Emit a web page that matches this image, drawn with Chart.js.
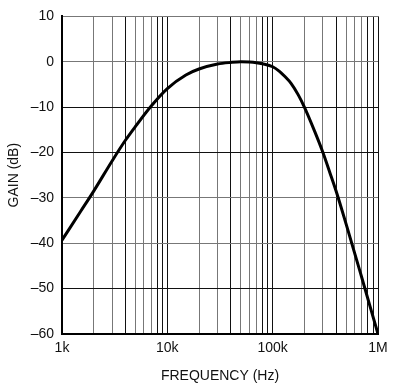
<!DOCTYPE html>
<html>
<head>
<meta charset="utf-8">
<script src="https://cdn.jsdelivr.net/npm/chart.js@4"></script>
<style>
  html, body { margin: 0; padding: 0; background: #fff; }
  #wrap { width: 394px; height: 391px; }
</style>
</head>
<body>
<div id="wrap"><canvas id="gain"></canvas></div>
<script>
// frequency (Hz) and gain (dB)
const freqHz = [1000, 1500, 2000, 3000, 4000, 5000, 7000, 10000, 15000, 20000, 30000, 40000, 50000,
    60000, 70000, 80000, 100000, 116000, 130000, 150000, 175000, 200000, 250000, 300000, 350000,
    400000, 500000, 700000, 1000000];
const gainDb = [-39.3, -33.0, -28.5, -21.8, -17.3, -14.2, -9.8, -5.9, -2.9, -1.6, -0.5, -0.15, 0,
    -0.05, -0.2, -0.45, -1.1, -2.1, -3.2, -4.8, -7.3, -10, -15.3, -20, -24.5,
    -28.5, -35.9, -47.5, -60];
const decadeLabels = {1000: '1k', 10000: '10k', 100000: '100k', 1000000: '1M'};

const font = {family: "'Liberation Sans Narrow', 'Liberation Sans', Arial, sans-serif", size: 14};
Chart.defaults.color = '#111';

new Chart(document.getElementById('gain'), {
    type: 'scatter',
    data: {
        datasets: [{
            data: freqHz.map((f, i) => ({x: f, y: gainDb[i]})),
            showLine: true,
            borderColor: '#000',
            borderWidth: 3,
            pointRadius: 0,
            cubicInterpolationMode: 'monotone',
        }],
    },
    options: {
        responsive: true,
        maintainAspectRatio: false,
        animation: false,
        layout: {padding: {left: 0, right: 16, top: 16, bottom: 6}},
        plugins: {legend: {display: false}, tooltip: {enabled: false}},
        scales: {
            x: {
                type: 'logarithmic',
                min: 1000,
                max: 1000000,
                afterBuildTicks: (scale) => {
                    const t = [];
                    for (let d = 1000; d < 1000000; d *= 10) {
                        for (let m = 1; m < 10; m++) t.push({value: d * m});
                    }
                    t.push({value: 1000000});
                    scale.ticks = t;
                },
                afterFit: (scale) => { scale.height = 51; },
                ticks: {
                    autoSkip: false,
                    maxRotation: 0,
                    padding: 6,
                    font: font,
                    callback: (v) => decadeLabels[v] || '',
                },
                grid: {
                    drawTicks: false,
                    color: (ctx) => {
                        const v = ctx.tick ? ctx.tick.value : 0;
                        const m = Math.round(v / Math.pow(10, Math.floor(Math.log10(v) + 1e-9)));
                        return (m === 1 || m === 4 || m === 8 || m === 9) ? '#111' : '#777';
                    },
                },
                border: {color: '#000', width: 2},
                title: {display: true, text: 'FREQUENCY (Hz)', font: font, padding: {top: 2, bottom: 0}},
            },
            y: {
                min: -60,
                max: 10,
                afterFit: (scale) => { scale.width = 62; },
                ticks: {
                    stepSize: 10,
                    padding: 8,
                    font: font,
                    callback: (v) => v < 0 ? '\u2013' + Math.abs(v) : String(v),
                },
                grid: {
                    drawTicks: false,
                    color: (ctx) => {
                        const v = ctx.tick ? ctx.tick.value : 0;
                        return (v === -10 || v === -20 || v === -50) ? '#111' : '#777';
                    },
                },
                border: {color: '#000', width: 2},
                title: {display: true, text: 'GAIN (dB)', font: font, padding: {top: 6, bottom: 0}},
            },
        },
    },
});
</script>
</body>
</html>
